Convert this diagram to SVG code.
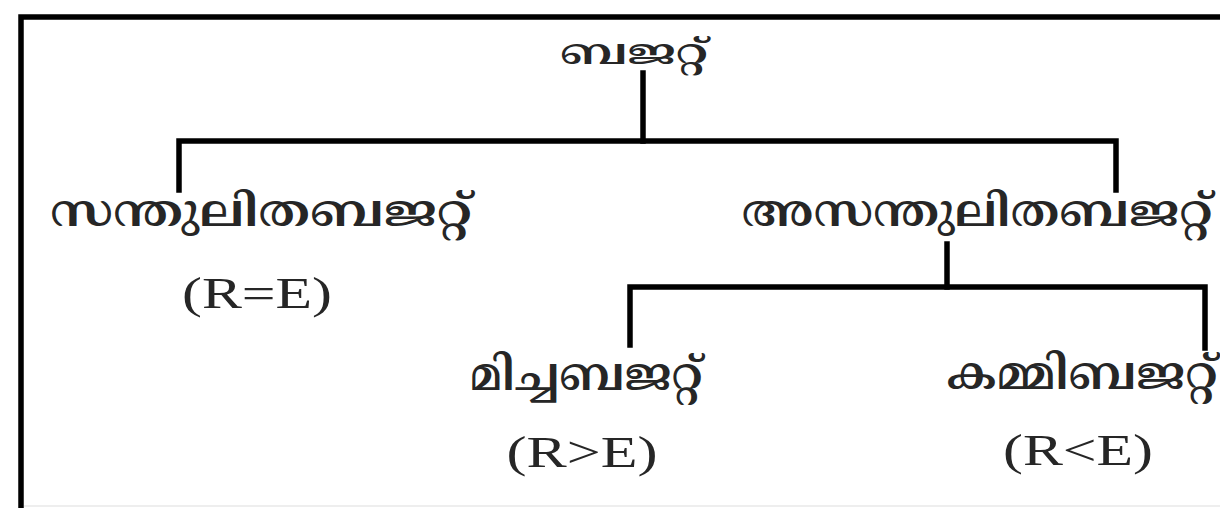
<svg xmlns="http://www.w3.org/2000/svg" width="1220" height="508" viewBox="0 0 1220 508">
<style>
.ml{font-family:"Noto Serif Malayalam","Noto Sans Malayalam","Rachana","Meera","Noto Sans",serif;fill:#262626;text-anchor:middle;font-weight:600}
.eq{font-family:"Liberation Serif","Times New Roman",serif;font-size:45px;fill:#262626;text-anchor:middle}
.ln{stroke:#000;stroke-width:5.5;fill:none;stroke-linecap:square}
</style>
<rect width="1220" height="508" fill="#fff"/>
<g id="frame">
<path d="M21 508 V17 H1220" class="ln"/>
<line x1="24" y1="506" x2="1220" y2="506" stroke="#eeeeee" stroke-width="2"/>
</g>
<g id="connectors">
<path class="ln" d="M643 73 V141"/>
<path class="ln" d="M179 190 V141 H1116 V190"/>
<path class="ln" d="M947 244 V287"/>
<path class="ln" d="M630 345 V287 H1205 V348"/>
</g>
<g id="budget">
<text class="ml" x="634" y="64" font-size="35" textLength="148" lengthAdjust="spacingAndGlyphs">ബജറ്റ്</text>
</g>
<g id="balanced">
<text class="ml" x="261" y="226" font-size="44" textLength="422" lengthAdjust="spacingAndGlyphs">സന്തുലിതബജറ്റ്</text>
<text class="eq" x="257" y="308" textLength="150" lengthAdjust="spacingAndGlyphs">(R=E)</text>
</g>
<g id="unbalanced">
<text class="ml" x="977" y="226" font-size="44" textLength="471" lengthAdjust="spacingAndGlyphs">അസന്തുലിതബജറ്റ്</text>
</g>
<g id="surplus">
<text class="ml" x="586" y="390" font-size="46" textLength="233" lengthAdjust="spacingAndGlyphs">മിച്ചബജറ്റ്</text>
<text class="eq" x="582" y="467" textLength="151" lengthAdjust="spacingAndGlyphs">(R&gt;E)</text>
</g>
<g id="deficit">
<text class="ml" x="1082" y="389" font-size="46" textLength="271" lengthAdjust="spacingAndGlyphs">കമ്മിബജറ്റ്</text>
<text class="eq" x="1078" y="465" textLength="150" lengthAdjust="spacingAndGlyphs">(R&lt;E)</text>
</g>
</svg>
